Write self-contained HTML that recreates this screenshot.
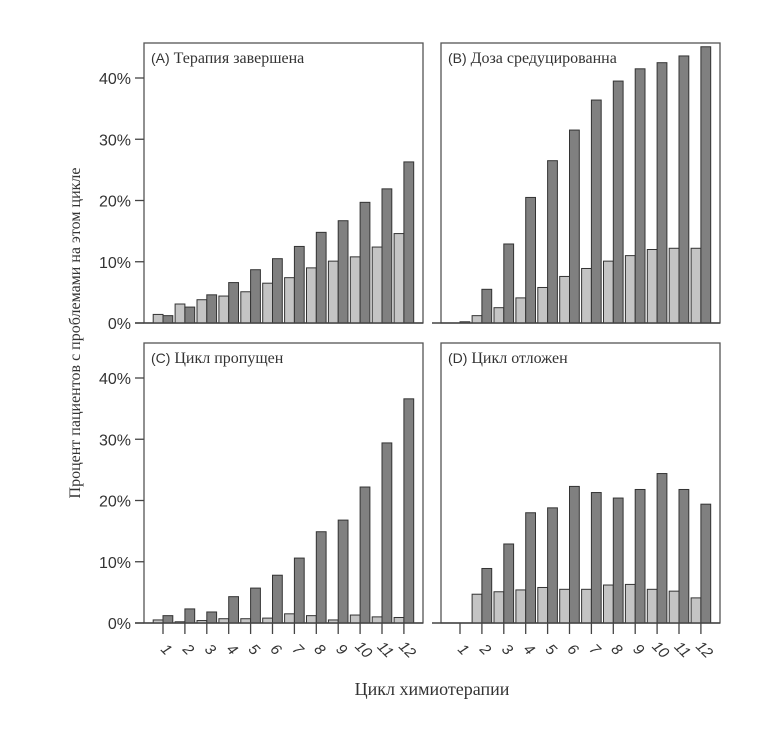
<!DOCTYPE html>
<html><head><meta charset="utf-8"><style>
body{margin:0;background:#fff}
svg{display:block}
text{fill:#333}
</style></head><body>
<svg id="chart" width="767" height="742" viewBox="0 0 767 742" xmlns="http://www.w3.org/2000/svg"></svg>
<script>
const cycles = ["1","2","3","4","5","6","7","8","9","10","11","12"];
const yTicks = [0,10,20,30,40];
const panelTitles = ["(A)|Терапия завершена","(B)|Доза средуцированна","(C)|Цикл пропущен","(D)|Цикл отложен"];
const aLight = [1.4,3.1,3.8,4.4,5.1,6.5,7.4,9.0,10.1,10.8,12.4,14.6];
const aDark  = [1.2,2.6,4.6,6.6,8.7,10.5,12.5,14.8,16.7,19.7,21.9,26.3];
const bLight = [0,1.2,2.5,4.1,5.8,7.6,8.9,10.1,11.0,12.0,12.2,12.2];
const bDark  = [0.2,5.5,12.9,20.5,26.5,31.5,36.4,39.5,41.5,42.5,43.6,45.1];
const cLight = [0.5,0.2,0.4,0.7,0.7,0.8,1.5,1.2,0.5,1.3,1.0,0.9];
const cDark  = [1.2,2.3,1.8,4.3,5.7,7.8,10.6,14.9,16.8,22.2,29.4,36.6];
const dLight = [0,4.7,5.1,5.4,5.8,5.5,5.5,6.2,6.3,5.5,5.2,4.1];
const dDark  = [0,8.9,12.9,18.0,18.8,22.3,21.3,20.4,21.8,24.4,21.8,19.4];

const NS="http://www.w3.org/2000/svg";
const svg=document.getElementById('chart');
function mk(tag,attrs,parent){const e=document.createElementNS(NS,tag);for(const k in attrs)e.setAttribute(k,attrs[k]);(parent||svg).appendChild(e);return e;}

const panels=[
 {x0:144,x1:423,y0:43,y1:323,light:aLight,dark:aDark,yaxis:true,xaxis:false,name:'a'},
 {x0:441,x1:720,y0:43,y1:323,light:bLight,dark:bDark,yaxis:false,xaxis:false,name:'b'},
 {x0:144,x1:423,y0:343,y1:623,light:cLight,dark:cDark,yaxis:true,xaxis:true,name:'c'},
 {x0:441,x1:720,y0:343,y1:623,light:dLight,dark:dDark,yaxis:false,xaxis:true,name:'d'}
];
const pxPer=6.125, pitch=21.9, bw=9.8;
panels.forEach((p,pi)=>{
  const g=mk('g',{});
  
  
  const yS=v=>p.y1-v*pxPer;
  const xC=i=>p.x0+19+pitch*i;
  const fr=mk('rect',{x:p.x0,y:p.y0,width:p.x1-p.x0,height:p.y1-p.y0,fill:'none',stroke:'#555','stroke-width':1.3},g);
  
  
  const parts=panelTitles[pi].split('|');
  const t=mk('text',{x:p.x0+7,y:p.y0+20,'font-size':15},g);
  
  
  const t1=mk('tspan',{'font-family':'Liberation Sans, sans-serif','font-size':14},t);t1.textContent=parts[0]+' ';
  const t2=mk('tspan',{'font-family':'Liberation Serif, DejaVu Serif, serif','font-size':16},t);t2.textContent=parts[1];
  cycles.forEach((c,i)=>{
    const cx=xC(i);
    const lv=p.light[i], dv=p.dark[i];
    const r1=mk('rect',{x:cx-bw,y:yS(lv),width:bw,height:lv*pxPer,fill:'#c4c4c4',stroke:'#333','stroke-width':1},g);
    
    
    const r2=mk('rect',{x:cx,y:yS(dv),width:bw,height:dv*pxPer,fill:'#808080',stroke:'#333','stroke-width':1},g);
    
    
    if(p.xaxis){
      mk('line',{x1:cx,x2:cx,y1:p.y1,y2:p.y1+11,stroke:'#444','stroke-width':1.3},g);
      const lt=mk('text',{x:0,y:0,'font-family':'Liberation Sans, sans-serif','font-size':15,'font-style':'italic','text-anchor':'middle',transform:`translate(${cx},${p.y1+30}) rotate(45)`},g);
      
      
      lt.textContent=c;
    }
  });
  mk('line',{x1:p.x0-9,x2:p.x1,y1:p.y1,y2:p.y1,stroke:'#444','stroke-width':1.5},g);
  if(p.yaxis){
    yTicks.forEach(v=>{
      mk('line',{x1:p.x0-9,x2:p.x0,y1:yS(v),y2:yS(v),stroke:'#444','stroke-width':1.3},g);
      const yt=mk('text',{x:p.x0-13,y:yS(v)+6,'font-family':'Liberation Sans, sans-serif','font-size':16,'text-anchor':'end'},g);
      
      
      yt.textContent=v+'%';
    });
  }
});
const yt=mk('text',{x:0,y:0,'font-family':'Liberation Serif, DejaVu Serif, serif','font-size':16,'text-anchor':'middle',transform:'translate(80,333) rotate(-90)'});


yt.textContent='Процент пациентов с проблемами на этом цикле';
const xt=mk('text',{x:432,y:695,'font-family':'Liberation Serif, DejaVu Serif, serif','font-size':18,'text-anchor':'middle'});


xt.textContent='Цикл химиотерапии';
</script>
</body></html>
